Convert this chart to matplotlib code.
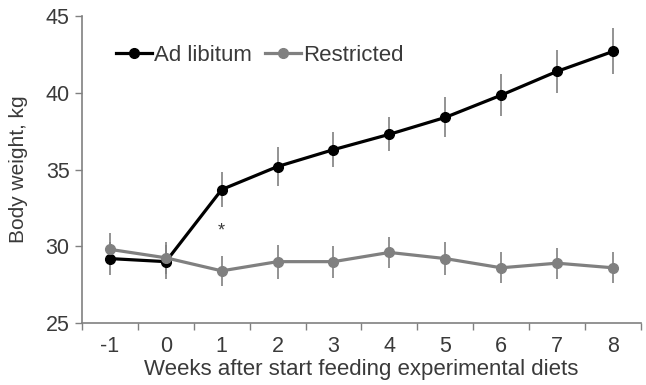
import numpy as np
import matplotlib
matplotlib.use("Agg")
import matplotlib.pyplot as plt

weeks = ["-1", "0", "1", "2", "3", "4", "5", "6", "7", "8"]
ad_libitum = [29.2, 29.0, 33.7, 35.2, 36.3, 37.3, 38.4, 39.85, 41.4, 42.7]
ad_libitum_err = [1.1, 1.1, 1.15, 1.25, 1.15, 1.1, 1.3, 1.35, 1.4, 1.5]
restricted = [29.8, 29.25, 28.4, 29.0, 29.0, 29.6, 29.2, 28.6, 28.9, 28.6]
restricted_err = [1.05, 1.05, 1.0, 1.1, 1.05, 1.0, 1.05, 1.0, 1.0, 1.0]
star_week = 2          # index of week "1"
star_y = 31.0

plt.rcParams['font.family'] = ['Liberation Sans', 'DejaVu Sans']
txt = '#3a3a3a'
grey = '#808080'

fig = plt.figure(figsize=(6.46, 3.85), dpi=100)
ax = fig.add_axes([0.127, 0.161, 0.865, 0.797])

x = np.arange(len(weeks))

#
# error bars first, then lines on top
#
ax.errorbar(x, ad_libitum, yerr=ad_libitum_err, fmt='none',
            ecolor=grey, elinewidth=1.2, capsize=0, zorder=1)
ax.errorbar(x, restricted, yerr=restricted_err, fmt='none',
            ecolor=grey, elinewidth=1.2, capsize=0, zorder=1)

ax.plot(x, ad_libitum, color='black', lw=2.3, marker='o', ms=7,
        label='Ad libitum', zorder=3)
ax.plot(x, restricted, color=grey, lw=2.3, marker='o', ms=7,
        label='Restricted', zorder=4)

ax.text(x[star_week], star_y, '*', ha='center', va='center',
        fontsize=13, color=txt)

ax.set_xlim(-0.5, len(weeks) - 0.5)
ax.set_ylim(25, 45)
ax.set_yticks([25, 30, 35, 40, 45])

# ticks between categories, labels at centers
ax.set_xticks(np.arange(len(weeks) + 1) - 0.5)
ax.set_xticklabels([])
ax.set_xticks(x, minor=True)
ax.set_xticklabels(weeks, minor=True)
ax.tick_params(axis='x', which='minor', length=0, pad=9)
ax.tick_params(axis='x', which='major', length=5, width=1, color=grey)
ax.tick_params(axis='y', length=5, width=1, color=grey, pad=4)
ax.tick_params(axis='both', which='both', labelsize=15.5, labelcolor=txt)

for s in ['top', 'right']:
    ax.spines[s].set_visible(False)
for s in ['left', 'bottom']:
    ax.spines[s].set_color(grey)
    ax.spines[s].set_linewidth(1.2)

ax.set_xlabel('Weeks after start feeding experimental diets', fontsize=16,
              color=txt, va='center')
ax.xaxis.set_label_coords(0.5, -0.153)
ax.set_ylabel('Body weight, kg', fontsize=15, color=txt, va='center')
ax.yaxis.set_label_coords(-0.114, 0.5)

leg = ax.legend(loc='upper left', bbox_to_anchor=(0.045, 0.935), ncol=2,
                frameon=False, fontsize=16, handlelength=1.6,
                handletextpad=0.1, columnspacing=0.6, borderaxespad=0)
for t in leg.get_texts():
    t.set_color(txt)

fig.savefig('out.png', dpi=100)
